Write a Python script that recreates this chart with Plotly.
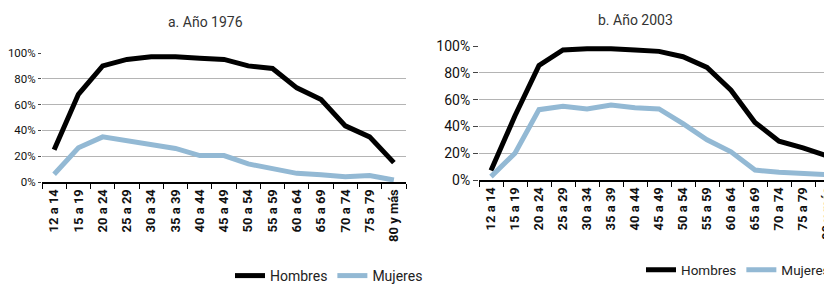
import plotly.graph_objects as go

categorias = ["12 a 14", "15 a 19", "20 a 24", "25 a 29", "30 a 34", "35 a 39", "40 a 44",
              "45 a 49", "50 a 54", "55 a 59", "60 a 64", "65 a 69", "70 a 74", "75 a 79", "80 y más"]

hombres_1976 = [25, 68, 90, 95, 97, 97, 96, 95, 90, 88, 73, 64, 43.5, 35, 15]
mujeres_1976 = [6, 26.5, 35, 32, 29.5, 26, 20.5, 20.5, 14, 10, 6.7, 5.7, 4, 5, 1.5]

hombres_2003 = [7, 48, 85.5, 97, 98, 98, 97, 96, 92, 84, 67, 43, 29, 24, 18]
mujeres_2003 = [2.5, 20, 52.5, 55, 53, 56, 54, 53, 42, 30, 21, 7.4, 5.7, 5, 4]

titulos = ["a. Año 1976", "b. Año 2003"]

C_H = "#000000"
C_M = "#93b9d4"
FONT = "Roboto, Liberation Sans, sans-serif"

fig = go.Figure()

fig.add_trace(go.Scatter(x=categorias, y=hombres_1976, mode="lines", name="Hombres",
                         line=dict(color=C_H, width=5), xaxis="x", yaxis="y", legend="legend"))
fig.add_trace(go.Scatter(x=categorias, y=mujeres_1976, mode="lines", name="Mujeres",
                         line=dict(color=C_M, width=5), xaxis="x", yaxis="y", legend="legend"))
fig.add_trace(go.Scatter(x=categorias, y=hombres_2003, mode="lines", name="Hombres",
                         line=dict(color=C_H, width=5), xaxis="x2", yaxis="y2", legend="legend2"))
fig.add_trace(go.Scatter(x=categorias, y=mujeres_2003, mode="lines", name="Mujeres",
                         line=dict(color=C_M, width=5), xaxis="x2", yaxis="y2", legend="legend2"))

W, H = 832, 285
OFF = 8  # page body margin offset


def px_x(x):
    return (x - OFF) / W


def px_y(y):
    return 1 - (y - OFF) / H


def xax(d0, d1, anchor):
    return dict(domain=[px_x(d0), px_x(d1)], anchor=anchor, type="category",
                showline=True, linecolor="#000000", linewidth=2,
                ticks="outside", tickson="boundaries", ticklen=5, tickcolor="#000000", tickwidth=1,
                tickangle=-90, showgrid=False, automargin=False,
                tickfont=dict(family=FONT, size=13, color="#111111", weight="bold"),
                range=[-0.5, len(categorias) - 0.5], fixedrange=True)


def yax(top, bottom, anchor, fsize, tlen):
    return dict(domain=[px_y(bottom), px_y(top)], anchor=anchor, range=[0, 100],
                dtick=20, ticksuffix="%", showline=False, zeroline=False,
                showgrid=True, gridcolor="#b4b4b4", gridwidth=1, automargin=False,
                ticks="outside", ticklen=tlen, tickcolor="#444444", tickwidth=1,
                tickfont=dict(family=FONT, size=fsize, color="#111111"), fixedrange=True)


fig.update_layout(
    width=W, height=H,
    margin=dict(l=0, r=0, t=0, b=0, autoexpand=False),
    paper_bgcolor="white", plot_bgcolor="white",
    font=dict(family=FONT, color="#222222"),
    xaxis=xax(42, 406, "y"),
    yaxis=yax(53, 182, "x", 11.5, 3),
    xaxis2=xax(479, 839, "y2"),
    yaxis2=yax(46, 180, "x2", 14, 5),
    legend=dict(orientation="h", x=px_x(230), y=px_y(276), xanchor="left", yanchor="middle",
                font=dict(family=FONT, size=14, color="#222222"), bgcolor="rgba(0,0,0,0)",
                itemwidth=30, tracegroupgap=0),
    legend2=dict(orientation="h", x=px_x(641), y=px_y(270), xanchor="left", yanchor="middle",
                 font=dict(family=FONT, size=13.5, color="#222222"), bgcolor="rgba(0,0,0,0)",
                 itemwidth=30, tracegroupgap=0),
    showlegend=True,
    annotations=[
        dict(text=titulos[0], x=px_x(205), y=px_y(22), xref="paper", yref="paper",
             xanchor="center", yanchor="middle",
             showarrow=False, font=dict(family=FONT, size=14, color="#333333")),
        dict(text=titulos[1], x=px_x(635), y=px_y(20), xref="paper", yref="paper",
             xanchor="center", yanchor="middle",
             showarrow=False, font=dict(family=FONT, size=14, color="#333333")),
    ],
)

fig.write_html("out.html")
